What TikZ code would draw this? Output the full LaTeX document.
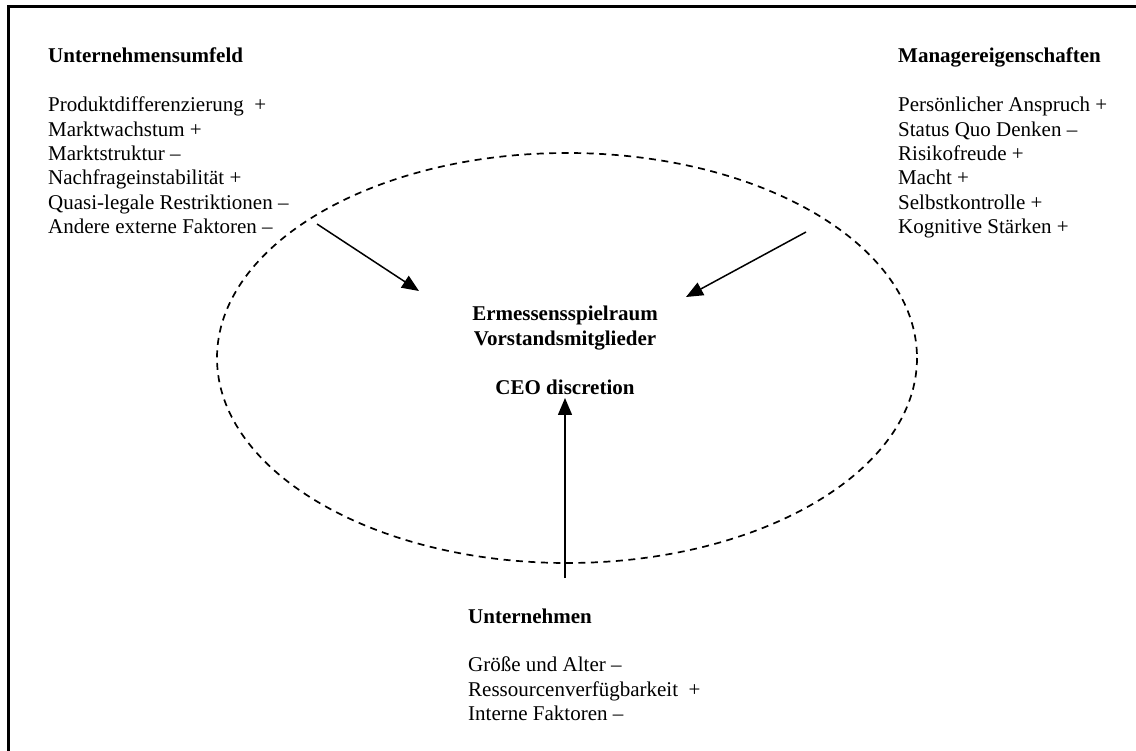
\documentclass[tikz,border=0pt]{standalone}
\usepackage{fontspec}
\setmainfont{Liberation Serif}
\usetikzlibrary{arrows.meta}
\newcommand{\blockfont}{\fontsize{21}{24.4}\selectfont}
\begin{document}
\begin{tikzpicture}[x=1pt,y=-1pt,
  factorlist/.style={anchor=base west, inner sep=0pt, font=\blockfont},
  centerlabel/.style={anchor=base, inner sep=0pt, font=\blockfont\bfseries},
  influence/.style={line width=1.5pt, -{Triangle[length=17pt,width=14pt]}},
  scopering/.style={dashed, line width=1.7pt, dash pattern=on 7pt off 5.5pt}
]
\useasboundingbox (0,0) rectangle (1136,751);

% frame (open towards the lower right edge)
\draw[line width=2.2pt] (8.5,751) -- (8.5,6.5) -- (1136,6.5);

% scope of managerial discretion
\draw[scopering] (567,358) ellipse [x radius=350, y radius=205];

% factor groups
\node[factorlist] (umfeld) at (48,63) {\begin{tabular}[t]{@{}l@{}}
  \textbf{Unternehmensumfeld}\\
  \\
  Produktdifferenzierung\ \ +\\
  Marktwachstum +\\
  Marktstruktur –\\
  Nachfrageinstabilität +\\
  Quasi-legale Restriktionen –\\
  Andere externe Faktoren –
\end{tabular}};

\node[factorlist] (manager) at (898,63) {\begin{tabular}[t]{@{}l@{}}
  \textbf{Managereigenschaften}\\
  \\
  Persönlicher Anspruch +\\
  Status Quo Denken –\\
  Risikofreude +\\
  Macht +\\
  Selbstkontrolle +\\
  Kognitive Stärken +
\end{tabular}};

\node[factorlist] (firma) at (468,623) {\begin{tabular}[t]{@{}l@{}}
  \textbf{Unternehmen}\\
  \\
  Größe und Alter –\\
  Ressourcenverfügbarkeit\ \ +\\
  Interne Faktoren –
\end{tabular}};

% central concept
\node[centerlabel] (ermessen) at (565,321) {\begin{tabular}[t]{@{}c@{}}
  Ermessensspielraum\\
  Vorstandsmitglieder\\
  \\
  CEO discretion
\end{tabular}};

% arrow ends
\coordinate (umfeldout) at (317,224);
\coordinate (umfeldin) at (419,291);
\coordinate (managerout) at (806,232);
\coordinate (managerin) at (686,297);
\coordinate (firmaout) at (565,578);
\coordinate (firmain) at (565,398);

\draw[influence] (umfeldout) -- (umfeldin);
\draw[influence] (managerout) -- (managerin);
\draw[influence] (firmaout) -- (firmain);
\end{tikzpicture}
\end{document}
